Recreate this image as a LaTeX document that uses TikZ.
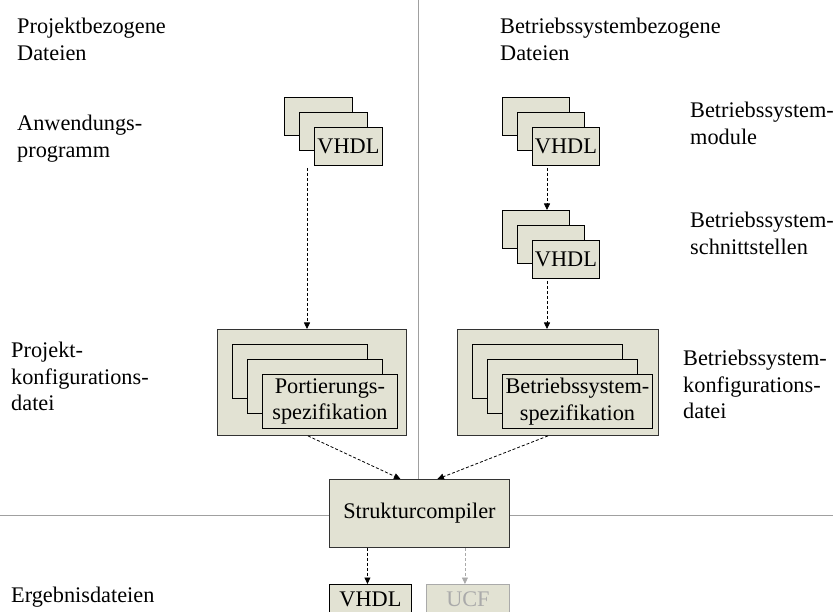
\documentclass[tikz,border=0pt]{standalone}
\usepackage{fontspec}
\setmainfont{Liberation Serif}
\usetikzlibrary{arrows.meta,backgrounds}
\definecolor{boxfill}{RGB}{226,226,211}
\definecolor{divgray}{RGB}{160,160,160}
\definecolor{ghost}{RGB}{170,170,170}
\begin{document}
\begin{tikzpicture}[x=1pt,y=-1pt,
  font=\fontsize{22.3}{26.5}\selectfont,
  card/.style={draw=black, fill=boxfill, line width=0.9pt, inner sep=0pt, anchor=north west, align=center},
  outerbox/.style={draw=black!80, fill=boxfill, line width=0.9pt, inner sep=0pt, anchor=north west},
  flow/.style={draw=black, line width=0.8pt, dash pattern=on 3pt off 2pt, -{Triangle[length=6.5pt,width=6pt]}},
  lbl/.style={anchor=north west, inner sep=0pt, align=left},
  divider/.style={draw=divgray, line width=0.8pt}]
\useasboundingbox (0,0) rectangle (833,612);
\clip (0,0) rectangle (833,612);

% labels
\node[lbl] (l1) at (17,18) {Projektbezogene\\Dateien};
\node[lbl] (l2) at (500,18) {Betriebssystembezogene\\Dateien};
\node[lbl] (l3) at (17,115) {Anwendungs-\\programm};
\node[lbl] (l4) at (690,102) {Betriebssystem-\\module};
\node[lbl] (l5) at (690,212) {Betriebssystem-\\schnittstellen};
\node[lbl] (l6) at (11,342) {Projekt-\\konfigurations-\\datei};
\node[lbl] (l7) at (683,350) {Betriebssystem-\\konfigurations-\\datei};
\node[lbl] (l8) at (11,587) {Ergebnisdateien};

% stack A
\node[card, minimum width=68, minimum height=38] (a1) at (284,97) {};
\node[card, minimum width=68, minimum height=38] (a2) at (299,112) {};
\node[card, minimum width=68, minimum height=38] (a3) at (314,127) {VHDL};
% stack B
\node[card, minimum width=67, minimum height=38] (b1) at (502,97) {};
\node[card, minimum width=67, minimum height=38] (b2) at (517,112) {};
\node[card, minimum width=67, minimum height=38] (b3) at (532,127) {VHDL};
% stack C
\node[card, minimum width=67, minimum height=38] (c1) at (502,210) {};
\node[card, minimum width=67, minimum height=38] (c2) at (517,225) {};
\node[card, minimum width=67, minimum height=38] (c3) at (532,240) {VHDL};

% outer D
\node[outerbox, minimum width=189, minimum height=106] (d) at (217,329) {};
\node[card, minimum width=135, minimum height=54] (d1) at (232,344) {};
\node[card, minimum width=135, minimum height=54] (d2) at (247,359) {};
\node[card, minimum width=135, minimum height=54] (d3) at (262,374) {Portierungs-\\spezifikation};
% outer E
\node[outerbox, minimum width=201, minimum height=106] (e) at (457,329) {};
\node[card, minimum width=150, minimum height=54] (e1) at (472,344) {};
\node[card, minimum width=150, minimum height=54] (e2) at (487,359) {};
\node[card, minimum width=150, minimum height=54] (e3) at (502,374) {Betriebssystem-\\spezifikation};

% compiler and results
\node[outerbox, minimum width=180, minimum height=68] (f) at (329,479) {Strukturcompiler};
\node[card, minimum width=82, minimum height=30] (g) at (329,584) {VHDL};
\node[card, draw=ghost, text=ghost, minimum width=83, minimum height=30] (h) at (426,584) {UCF};

% dividers
\begin{scope}[on background layer]
\coordinate (vtop) at (418,0);
\draw[divider] (vtop) -- (vtop |- f.north);
\coordinate (hleft) at (0,515);
\coordinate (hright) at (833,515);
\draw[divider] (hleft) -- (hright);
\end{scope}

% arrows
\coordinate (aout) at (307,168);
\draw[flow] (aout) -- (aout |- d.north);
\coordinate (bout) at (547,168);
\draw[flow] (bout) -- (bout |- c1.north);
\coordinate (cout) at (547,281);
\draw[flow] (cout) -- (cout |- e.north);
\draw[flow] ([xshift=-4pt]d.south) -- ([xshift=-19pt]f.north);
\draw[flow] ([xshift=-10pt]e.south) -- ([xshift=18pt]f.north);
\draw[flow] ([xshift=-3pt]g.north |- f.south) -- ([xshift=-3pt]g.north);
\draw[flow, draw=ghost] ([xshift=-3pt]h.north |- f.south) -- ([xshift=-3pt]h.north);
\end{tikzpicture}
\end{document}
